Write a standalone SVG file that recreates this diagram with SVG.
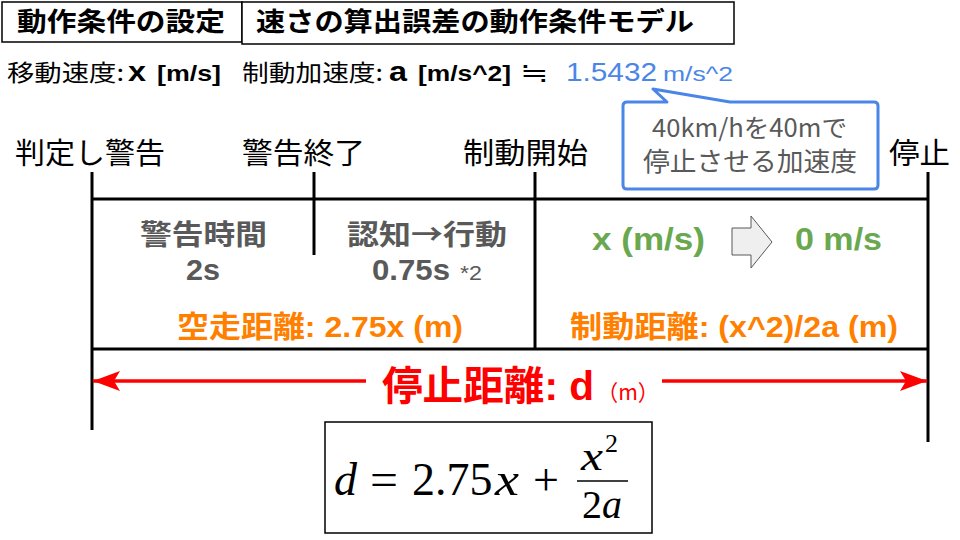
<svg xmlns="http://www.w3.org/2000/svg" width="960" height="540" viewBox="0 0 960 540">
<style>
text{font-family:"Liberation Sans","Noto Sans CJK JP",sans-serif}
.jp{font-family:"Noto Sans CJK JP","Liberation Sans",sans-serif}
.b{font-weight:bold}
.gray{fill:#595959}
.org{fill:#ff8000}
.grn{fill:#6aa84f}
.blu{fill:#4a86e8}
.red{fill:#ff0000}
.ln{stroke:#000;stroke-width:3;fill:none}
.math{font-family:"Liberation Serif","DejaVu Serif",serif;font-size:46px}
.frac{font-size:40px}
.it{font-style:italic}
</style>
<defs>
<marker id="ah" viewBox="0 0 27 20" refX="27" refY="10" markerWidth="27" markerHeight="20" markerUnits="userSpaceOnUse" orient="auto-start-reverse">
<path d="M0,0 L27,10 L0,20 L6,10 Z" fill="#ff0000"/>
</marker>
</defs>
<rect width="960" height="540" fill="#fff"/>
<g id="title">
<rect x="2" y="2" width="240" height="40" fill="#fff" stroke="#000" stroke-width="1.5"/>
<text x="17" y="31" class="jp b" font-size="26" textLength="208" lengthAdjust="spacingAndGlyphs">動作条件の設定</text>
<rect x="242" y="2" width="492" height="42" fill="#fff" stroke="#000" stroke-width="1.5"/>
<text x="256" y="31" class="jp b" font-size="26" textLength="438" lengthAdjust="spacingAndGlyphs">速さの算出誤差の動作条件モデル</text>
</g>
<g id="params">
<text x="7" y="81" class="jp" font-size="23" textLength="117" lengthAdjust="spacingAndGlyphs">移動速度:</text>
<text x="128" y="81" class="b" font-size="28" textLength="18" lengthAdjust="spacingAndGlyphs">x</text>
<text x="157" y="81" class="b" font-size="22" textLength="64" lengthAdjust="spacingAndGlyphs">[m/s]</text>
<text x="242" y="81" class="jp" font-size="23" textLength="141" lengthAdjust="spacingAndGlyphs">制動加速度:</text>
<text x="389" y="81" class="b" font-size="28" textLength="18" lengthAdjust="spacingAndGlyphs">a</text>
<text x="418" y="81" class="b" font-size="22" textLength="93" lengthAdjust="spacingAndGlyphs">[m/s^2]</text>
<text x="520" y="82" class="jp" font-size="28" textLength="28" lengthAdjust="spacingAndGlyphs">≒</text>
<text x="566" y="81" class="blu" font-size="26" textLength="91" lengthAdjust="spacingAndGlyphs">1.5432</text>
<text x="663" y="81" class="blu" font-size="21" textLength="70" lengthAdjust="spacingAndGlyphs">m/s^2</text>
</g>
<g id="callout">
<path d="M627,102 L667,102 L653,89 L730,102 L874,102 Q878,102 878,106 L878,185 Q878,189 874,189 L627,189 Q623,189 623,185 L623,106 Q623,102 627,102 Z" fill="#fff" stroke="#4a86e8" stroke-width="3" stroke-linejoin="round"/>
<text x="652" y="137" class="jp gray" font-size="25" textLength="195" lengthAdjust="spacingAndGlyphs">40km/hを40mで</text>
<text x="643" y="171" class="jp gray" font-size="26" textLength="214" lengthAdjust="spacingAndGlyphs">停止させる加速度</text>
</g>
<g id="labels" class="jp" font-size="29">
<text x="15" y="164" textLength="150" lengthAdjust="spacingAndGlyphs">判定し警告</text>
<text x="242" y="164" textLength="123" lengthAdjust="spacingAndGlyphs">警告終了</text>
<text x="463" y="164" textLength="125" lengthAdjust="spacingAndGlyphs">制動開始</text>
<text x="889" y="164" textLength="61" lengthAdjust="spacingAndGlyphs">停止</text>
</g>
<g id="connectors">
<line class="ln" x1="92" y1="172" x2="92" y2="430"/>
<line class="ln" x1="314" y1="172" x2="314" y2="255"/>
<line class="ln" x1="535" y1="172" x2="535" y2="349"/>
<line class="ln" x1="928" y1="172" x2="928" y2="442"/>
<line class="ln" x1="92" y1="199" x2="928" y2="199"/>
<line class="ln" x1="92" y1="349" x2="928" y2="349"/>
<line x1="366" y1="381" x2="93" y2="381" stroke="#ff0000" stroke-width="3.5" marker-end="url(#ah)"/>
<line x1="662" y1="381" x2="927" y2="381" stroke="#ff0000" stroke-width="3.5" marker-end="url(#ah)"/>
</g>
<g id="warning">
<text x="140" y="245" class="b gray" font-size="28" textLength="127" lengthAdjust="spacingAndGlyphs">警告時間</text>
<text x="186" y="280" class="b gray" font-size="30" textLength="34" lengthAdjust="spacingAndGlyphs">2s</text>
</g>
<g id="reaction">
<text x="347" y="245" class="jp b gray" font-size="28" textLength="160" lengthAdjust="spacingAndGlyphs">認知→行動</text>
<text x="372" y="280" class="b gray" font-size="30" textLength="78" lengthAdjust="spacingAndGlyphs">0.75s</text>
<text x="460" y="280" class="gray" font-size="21" textLength="22" lengthAdjust="spacingAndGlyphs">*2</text>
</g>
<g id="free-run">
<text x="177" y="337" class="b org" font-size="30" textLength="286" lengthAdjust="spacingAndGlyphs">空走距離: 2.75x (m)</text>
</g>
<g id="braking">
<text x="592" y="250" class="b grn" font-size="32" textLength="113" lengthAdjust="spacingAndGlyphs">x (m/s)</text>
<path d="M732,228 L751,228 L751,216 L772,242 L751,268 L751,255 L732,255 Z" fill="#efefef" stroke="#595959" stroke-width="1"/>
<text x="795" y="250" class="b grn" font-size="32" textLength="87" lengthAdjust="spacingAndGlyphs">0 m/s</text>
<text x="570" y="337" class="b org" font-size="30" textLength="328" lengthAdjust="spacingAndGlyphs">制動距離: (x^2)/2a (m)</text>
</g>
<g id="stop-distance">
<text x="382" y="400" class="b red" font-size="40" textLength="212" lengthAdjust="spacingAndGlyphs">停止距離: d</text>
<text x="597" y="400" class="jp red" font-size="22" textLength="62" lengthAdjust="spacingAndGlyphs">（m）</text>
</g>
<g id="formula">
<rect x="325" y="422" width="327" height="111" fill="#fff" stroke="#000" stroke-width="1.5"/>
<text x="334" y="495" class="math it">d</text>
<text x="370" y="495" class="math" textLength="28" lengthAdjust="spacingAndGlyphs">=</text>
<text x="412" y="495" class="math">2.75</text>
<text x="495" y="495" class="math it" textLength="24" lengthAdjust="spacingAndGlyphs">x</text>
<text x="533" y="495" class="math">+</text>
<text x="581" y="470" class="math frac it" textLength="22" lengthAdjust="spacingAndGlyphs">x</text>
<text x="605" y="452" class="math" style="font-size:26px">2</text>
<line x1="577" y1="481" x2="628" y2="481" stroke="#000" stroke-width="1.5"/>
<text x="582" y="518" class="math frac">2<tspan class="it">a</tspan></text>
</g>
</svg>
